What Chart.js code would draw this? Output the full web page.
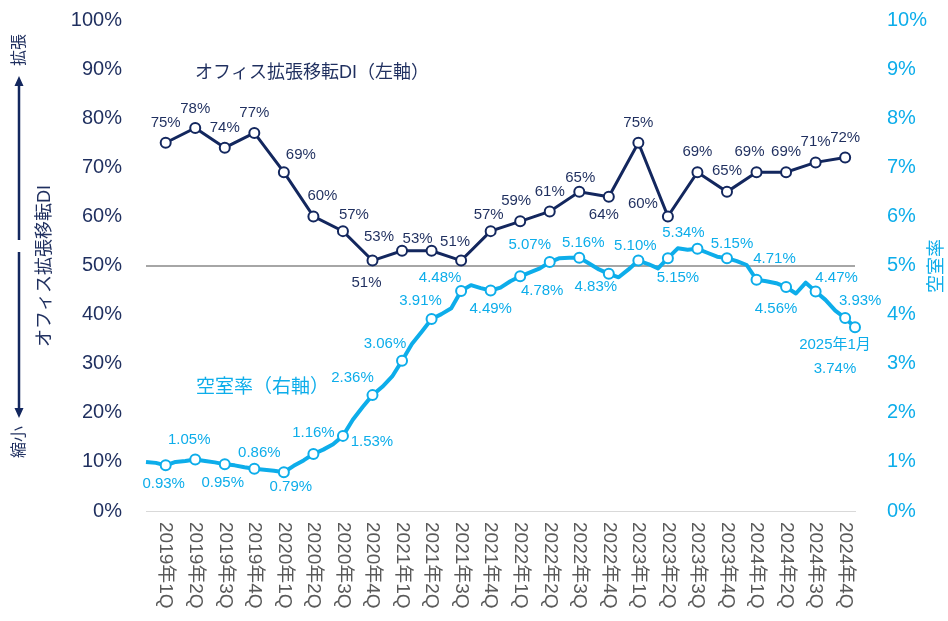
<!DOCTYPE html>
<html>
<head>
<meta charset="utf-8">
<script src="https://cdn.jsdelivr.net/npm/chart.js@4.4.1/dist/chart.umd.min.js"></script>
<style>
html, body { margin: 0; padding: 0; background: #fff; }
</style>
</head>
<body>
<canvas id="myChart" width="948" height="621"></canvas>
<script>
// quarterly categories (x axis)
var quarterLabels = [
    "2019年1Q", "2019年2Q", "2019年3Q", "2019年4Q",
    "2020年1Q", "2020年2Q", "2020年3Q", "2020年4Q",
    "2021年1Q", "2021年2Q", "2021年3Q", "2021年4Q",
    "2022年1Q", "2022年2Q", "2022年3Q", "2022年4Q",
    "2023年1Q", "2023年2Q", "2023年3Q", "2023年4Q",
    "2024年1Q", "2024年2Q", "2024年3Q", "2024年4Q"
];

// office expansion DI (%), one per quarter
var diValues = [75, 78, 74, 77, 69, 60, 57, 51, 53, 53, 51, 57, 59, 61, 65, 64, 75, 60, 69, 65, 69, 69, 71, 72];

// vacancy rate (%), monthly Jan 2019 - Jan 2025
var vacancyMonthly = [
    1.00, 0.98, 0.93, 1.00, 1.02, 1.05, 1.02, 0.99, 0.95, 0.93, 0.89, 0.86,
    0.84, 0.82, 0.79, 0.92, 1.03, 1.16, 1.25, 1.36, 1.53, 1.86, 2.12, 2.36,
    2.53, 2.74, 3.06, 3.40, 3.65, 3.91, 4.01, 4.13, 4.48, 4.60, 4.54, 4.49,
    4.55, 4.68, 4.78, 4.86, 4.94, 5.07, 5.15, 5.16, 5.16, 5.04, 4.92, 4.83,
    4.76, 4.92, 5.10, 5.03, 4.94, 5.15, 5.35, 5.32, 5.34, 5.26, 5.18, 5.15,
    5.09, 5.01, 4.71, 4.68, 4.64, 4.56, 4.43, 4.65, 4.47, 4.30, 4.08, 3.93,
    3.74
];
var lastMonthLabel = "2025年1月";

// tick labels
var leftTickLabels = ["0%", "10%", "20%", "30%", "40%", "50%", "60%", "70%", "80%", "90%", "100%"];
var rightTickLabels = ["0%", "1%", "2%", "3%", "4%", "5%", "6%", "7%", "8%", "9%", "10%"];

// label nudges (px) for each point label
var diLabelOffsets = [
    [0, -20], [0, -19], [0, -20], [0, -20], [17, -17], [9, -21], [11, -16], [-6, 22],
    [-23, -14], [-14, -12], [-6, -19], [-2, -16], [-4, -20], [0, -20], [1, -14], [-5, 18],
    [0, -20], [-25, -13], [0, -20], [0, -21], [-7, -20], [0, -20], [0, -21], [0, -20]
];
var vacLabelOffsets = [
    [-2, 19], [-6, -20], [-2, 19], [5, -16], [7, 15], [0, -21], [29, 6], [-20, -17],
    [-17, -17], [-11, -18], [-21, -13], [0, 18], [22, 15], [-20, -17], [4, -15], [-13, 13],
    [-3, -15], [10, 20], [-14, -16], [5, -14], [18, -21], [-10, 22], [21, -14], [15, -17],
    [-20, 17]
];

var fontFamily = "'Liberation Sans', 'Noto Sans CJK JP', sans-serif";
var navy = "#13275e";
var navyText = "#1f2f5f";
var cyan = "#0dadea";
var grey = "#595959";

function isMarker(i) {
    return i % 3 === 2 || i === vacancyMonthly.length - 1;
}

var diPoints = diValues.map(function (v, i) { return { x: 2 + 3 * i, y: v }; });
var vacPoints = vacancyMonthly.map(function (v, i) { return { x: i, y: v }; });

function drawRotated(ctx, text, x, y, angle) {
    ctx.save();
    ctx.translate(x, y);
    ctx.rotate(angle);
    ctx.fillText(text, 0, 0);
    ctx.restore();
}

// y axes add their tick padding on top/bottom; drop it so the plot keeps its own box
function fitY(width) {
    return function (s) {
        s.width = width;
        s.paddingTop = 0;
        s.paddingBottom = 0;
    };
}

var overlayPlugin = {
    id: "overlay",
    afterDatasetsDraw: function (chart) {
        var ctx = chart.ctx;
        ctx.save();
        ctx.font = "15px " + fontFamily;
        ctx.textAlign = "center";
        ctx.textBaseline = "middle";

        ctx.fillStyle = navyText;
        chart.getDatasetMeta(0).data.forEach(function (pt, i) {
            var off = diLabelOffsets[i];
            ctx.fillText(diValues[i] + "%", pt.x + off[0], pt.y + off[1]);
        });

        ctx.fillStyle = cyan;
        var meta = chart.getDatasetMeta(1);
        var k = 0;
        vacancyMonthly.forEach(function (v, i) {
            if (!isMarker(i)) return;
            var pt = meta.data[i];
            var off = vacLabelOffsets[k++];
            if (i === vacancyMonthly.length - 1) {
                ctx.fillText(lastMonthLabel, pt.x + off[0], pt.y + off[1]);
                ctx.fillText(v.toFixed(2) + "%", pt.x + off[0], pt.y + off[1] + 24);
            } else {
                ctx.fillText(v.toFixed(2) + "%", pt.x + off[0], pt.y + off[1]);
            }
        });
        ctx.restore();
    },
    afterDraw: function (chart) {
        var ctx = chart.ctx;
        var xs = chart.scales.x;
        var area = chart.chartArea;
        ctx.save();

        // x labels, rotated clockwise
        ctx.font = "19px " + fontFamily;
        ctx.fillStyle = grey;
        ctx.textAlign = "left";
        ctx.textBaseline = "middle";
        quarterLabels.forEach(function (lab, i) {
            drawRotated(ctx, lab, xs.getPixelForValue(2 + 3 * i), area.bottom + 11, Math.PI / 2);
        });

        // series names
        ctx.textAlign = "left";
        ctx.font = "18px " + fontFamily;
        ctx.fillStyle = navyText;
        ctx.fillText("オフィス拡張移転DI（左軸）", 195, 73);
        ctx.font = "19px " + fontFamily;
        ctx.fillStyle = cyan;
        ctx.fillText("空室率（右軸）", 196, 388);

        // axis titles
        ctx.textAlign = "center";
        ctx.font = "18px " + fontFamily;
        ctx.fillStyle = navyText;
        drawRotated(ctx, "オフィス拡張移転DI", 45, 266, -Math.PI / 2);
        ctx.fillStyle = cyan;
        drawRotated(ctx, "空室率", 937, 266, -Math.PI / 2);

        // expand / shrink arrows
        ctx.fillStyle = navyText;
        ctx.font = "16px " + fontFamily;
        drawRotated(ctx, "拡張", 20, 50, -Math.PI / 2);
        drawRotated(ctx, "縮小", 20, 442, -Math.PI / 2);
        ctx.strokeStyle = navy;
        ctx.lineWidth = 2.5;
        ctx.beginPath();
        ctx.moveTo(19, 240); ctx.lineTo(19, 84);
        ctx.moveTo(19, 252); ctx.lineTo(19, 410);
        ctx.stroke();
        ctx.fillStyle = navy;
        ctx.beginPath();
        ctx.moveTo(19, 76); ctx.lineTo(14.5, 86); ctx.lineTo(23.5, 86); ctx.closePath();
        ctx.moveTo(19, 418); ctx.lineTo(14.5, 408); ctx.lineTo(23.5, 408); ctx.closePath();
        ctx.fill();

        ctx.restore();
    }
};

function init_chart() {
    var ctx = document.getElementById("myChart").getContext("2d");
    window.myChart = new Chart(ctx, {
        type: "line",
        data: {
            datasets: [
                {
                    label: "オフィス拡張移転DI",
                    data: diPoints,
                    yAxisID: "y",
                    borderColor: navy,
                    backgroundColor: navy,
                    borderWidth: 3,
                    pointRadius: 5,
                    pointBorderWidth: 2,
                    pointBackgroundColor: "#fff",
                    pointBorderColor: navy,
                    tension: 0,
                    fill: false,
                    clip: false,
                },
                {
                    label: "空室率",
                    data: vacPoints,
                    yAxisID: "y1",
                    borderColor: cyan,
                    backgroundColor: cyan,
                    borderWidth: 4,
                    borderJoinStyle: "round",
                    pointRadius: function (c) { return isMarker(c.dataIndex) ? 5 : 0; },
                    pointBorderWidth: 2,
                    pointBackgroundColor: "#fff",
                    pointBorderColor: cyan,
                    tension: 0,
                    fill: false,
                    clip: false,
                },
            ],
        },
        options: {
            responsive: false,
            animation: false,
            devicePixelRatio: 1,
            layout: { padding: { top: 20, left: 0, right: 0, bottom: 0 }, autoPadding: false },
            plugins: {
                legend: { display: false },
                tooltip: { enabled: false },
            },
            scales: {
                x: {
                    type: "linear",
                    min: 0,
                    max: vacancyMonthly.length - 1,
                    ticks: { display: false },
                    grid: { display: false },
                    border: { display: true, color: "#d9d9d9", width: 1 },
                    afterFit: function (s) { s.height = 110; },
                },
                y: {
                    position: "left",
                    min: 0,
                    max: 100,
                    ticks: {
                        stepSize: 10,
                        padding: 24,
                        color: navyText,
                        font: { family: fontFamily, size: 20 },
                        callback: function (v) { return leftTickLabels[Math.round(v / 10)]; },
                    },
                    grid: {
                        drawTicks: false,
                        lineWidth: 2,
                        color: function (c) { return c.tick && c.tick.value === 50 ? "#a6a6a6" : "rgba(0,0,0,0)"; },
                    },
                    border: { display: false },
                    afterFit: fitY(146),
                },
                y1: {
                    position: "right",
                    min: 0,
                    max: 10,
                    ticks: {
                        stepSize: 1,
                        padding: 32,
                        color: cyan,
                        font: { family: fontFamily, size: 20 },
                        callback: function (v) { return rightTickLabels[Math.round(v)]; },
                    },
                    grid: { display: false, drawTicks: false },
                    border: { display: false },
                    afterFit: fitY(93),
                },
            },
        },
        plugins: [overlayPlugin],
    });
}

init_chart();
</script>
</body>
</html>
